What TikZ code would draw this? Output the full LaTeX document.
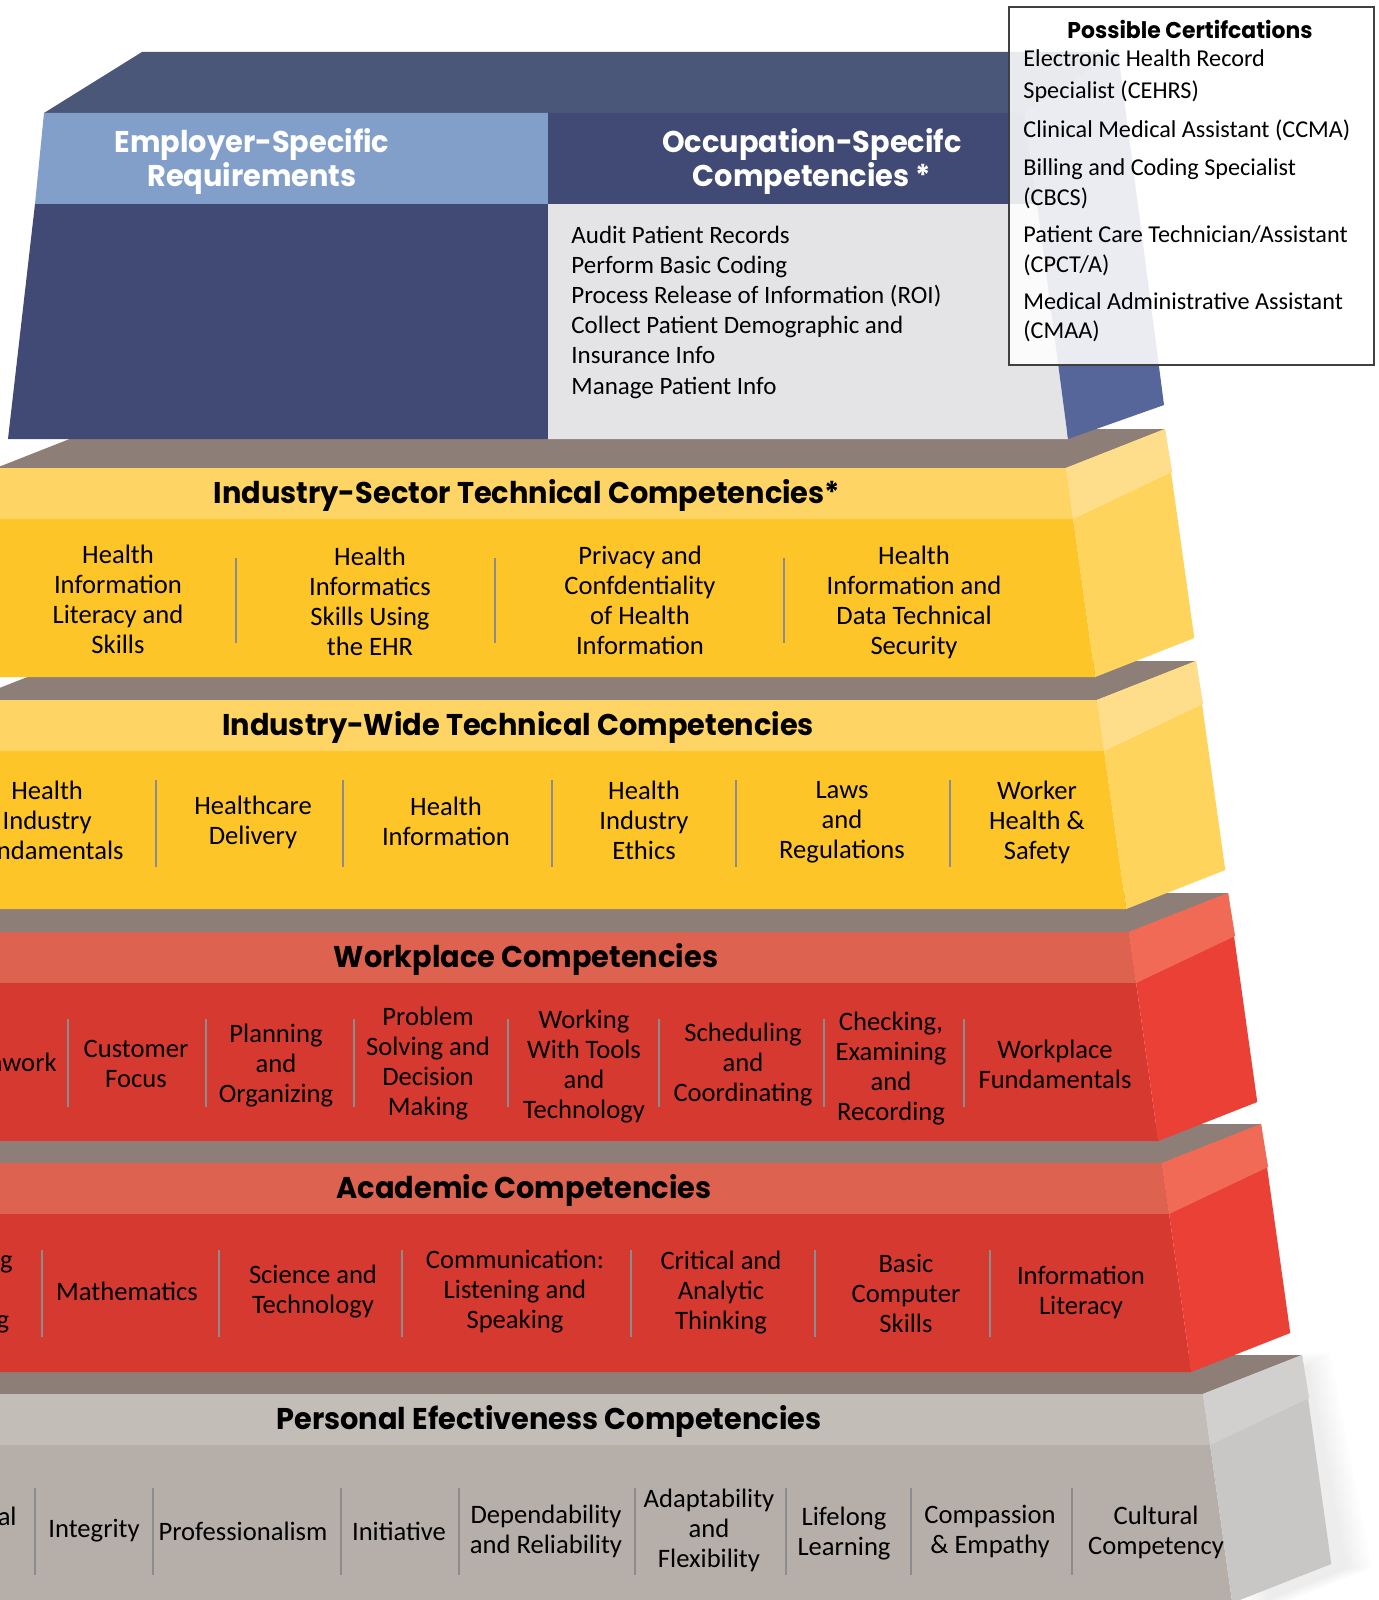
\documentclass[tikz,border=0pt]{standalone}
\usepackage{fontspec}
\setmainfont{Carlito}
\newfontfamily\headfont{Poppins}[FakeStretch=0.96]
\usetikzlibrary{positioning}

\definecolor{topgrey}{HTML}{8D7F78}
\definecolor{yelhead}{HTML}{FED565}
\definecolor{yelbody}{HTML}{FDC527}
\definecolor{yelband}{HTML}{FEDD8B}
\definecolor{yelside}{HTML}{FED45D}
\definecolor{redhead}{HTML}{DD6350}
\definecolor{redbody}{HTML}{D63930}
\definecolor{redband}{HTML}{F06A55}
\definecolor{redside}{HTML}{EA4035}
\definecolor{perhead}{HTML}{C2BDB7}
\definecolor{perbody}{HTML}{B6AEA8}
\definecolor{perband}{HTML}{D1D0CE}
\definecolor{perside}{HTML}{C9C7C5}
\definecolor{navytop}{HTML}{4A5779}
\definecolor{navy}{HTML}{404A74}
\definecolor{empblue}{HTML}{819FC9}
\definecolor{occgrey}{HTML}{E4E4E7}
\definecolor{navyside}{HTML}{56669A}

% one step of the pyramid: #1 top, #2 right x, #3 left x, #4 header, #5 body, #6 band, #7 side
\newcommand{\pyrlayer}[7]{%
  \pgfmathsetmacro\lyrh{#2+0.14*51}%
  \pgfmathsetmacro\lyrb{#2+0.14*209}%
  \pgfmathsetmacro\lylh{#3-0.14*51}%
  \pgfmathsetmacro\lylb{#3-0.14*209}%
  \fill[topgrey] (#3,#1) -- (#2,#1) -- ++(99,-39) -- ++({#3-#2},0) -- cycle;
  \fill[#4] (#3,#1) -- (#2,#1) -- (\lyrh,#1+51) -- (\lylh,#1+51) -- cycle;
  \fill[#5] (\lylh,#1+51) -- (\lyrh,#1+51) -- (\lyrb,#1+209) -- (\lylb,#1+209) -- cycle;
  \fill[#7] (#2,#1) -- ++(99,-39) -- (\lyrb+99,#1+170) -- (\lyrb,#1+209) -- cycle;
  \fill[#6] (#2,#1) -- ++(99,-39) -- (\lyrh+99,#1+4) -- (\lyrh,#1+51) -- cycle;
}

\begin{document}
\begin{tikzpicture}[x=0.5pt, y=-0.5pt,
    head/.style={font=\headfont\bfseries\fontsize{15}{16}\selectfont, inner sep=0pt, align=center},
    cell/.style={font=\fontsize{13.3}{15}\selectfont, inner sep=0pt, align=center},
    occitem/.style={font=\fontsize{12.5}{15}\selectfont, inner sep=0pt, anchor=base west},
    certitem/.style={occitem, font=\fontsize{12.1}{15}\selectfont},
    certhead/.style={font=\headfont\bfseries\fontsize{11.4}{12}\selectfont, inner sep=0pt},
    certframe/.style={draw=black!75, line width=1.2pt, fill=white, fill opacity=0.88,
      anchor=north west, minimum width=182.5pt, minimum height=179pt, inner sep=0pt},
    divider/.style={draw=black!45, line width=0.6pt}
  ]
  \useasboundingbox (0,0) rectangle (1379,1600);
  \clip (0,0) rectangle (1379,1600);

  % soft shadow
  \foreach \s in {3,6,...,27}
    \fill[black, opacity=0.008] (1230+\s,1394) -- (1303+\s,1352) -- (1345+\s,1568) -- (1240+\s,1610) -- cycle;

  % steps, bottom up
  \pyrlayer{1394}{1203}{-112}{perhead}{perbody}{perband}{perside}
  \pyrlayer{1163}{1162}{-85}{redhead}{redbody}{redband}{redside}
  \pyrlayer{932}{1129}{-58}{redhead}{redbody}{redband}{redside}
  \pyrlayer{700}{1097}{-31}{yelhead}{yelbody}{yelband}{yelside}
  \pyrlayer{468}{1066}{-4}{yelhead}{yelbody}{yelband}{yelside}

  % top block
  \fill[navytop] (44,113) -- (142,52) -- (1118,52) -- (1025,113) -- cycle;
  \fill[empblue] (44,113) -- (548,113) -- (548,204) -- (35,204) -- cycle;
  \fill[navy] (548,113) -- (1025,113) -- (1037,204) -- (548,204) -- cycle;
  \fill[navy] (35,204) -- (548,204) -- (548,439) -- (8,439) -- cycle;
  \fill[occgrey] (548,204) -- (1037,204) -- (1068,439) -- (548,439) -- cycle;
  \fill[navyside] (1025,113) -- (1118,52) -- (1164,405) -- (1068,439) -- cycle;

  \node[head, text=white] (emp) at (252,161) {Employer-Specific\\Requirements};
  \node[head, text=white] (occ) at (812,161) {Occupation-Specifc\\Competencies *};
  \foreach \txt [count=\i] in {Audit Patient Records, Perform Basic Coding,
      Process Release of Information (ROI), Collect Patient Demographic and,
      Insurance Info, Manage Patient Info}
    \node[occitem] (occ\i) at (571,{212.8+30.2*\i}) {\txt};

  % certifications box
  \node[certframe] (certbox) at (1008,6) {};
  \node[certhead] (certtitle) at (1190,29) {Possible Certifcations};
  \node[certitem] (cert1) at (1023,67) {Electronic Health Record};
  \node[certitem] (cert2) at (1023,98) {Specialist (CEHRS)};
  \node[certitem] (cert3) at (1023,137) {Clinical Medical Assistant (CCMA)};
  \node[certitem] (cert4) at (1023,175) {Billing and Coding Specialist};
  \node[certitem] (cert5) at (1023,205) {(CBCS)};
  \node[certitem] (cert6) at (1023,242) {Patient Care Technician/Assistant};
  \node[certitem] (cert7) at (1023,272) {(CPCT/A)};
  \node[certitem] (cert8) at (1023,309) {Medical Administrative Assistant};
  \node[certitem] (cert9) at (1023,338) {(CMAA)};

  % industry-sector
  \node[head] (sector) at (527,495) {Industry-Sector Technical Competencies*};
  \foreach \x in {236,495,784} \draw[divider] (\x,558) -- (\x,643);
  \node[cell] (sec1) at (118,599) {Health\\Information\\Literacy and\\Skills};
  \node[cell] (sec2) at (370,601) {Health\\Informatics\\Skills Using\\the EHR};
  \node[cell] (sec3) at (640,600) {Privacy and\\Confdentiality\\of Health\\Information};
  \node[cell] (sec4) at (914,602) {Health\\Information and\\Data Technical\\Security};

  % industry-wide
  \node[head] (wide) at (518,727) {Industry-Wide Technical Competencies};
  \foreach \x in {156,343,552,736,950} \draw[divider] (\x,780) -- (\x,867);
  \node[cell, anchor=east] (wide1) at (124,820) {Health\\Industry\\Fundamentals};
  \node[cell] (wide2) at (253,822) {Healthcare\\Delivery};
  \node[cell] (wide3) at (446,821) {Health\\Information};
  \node[cell] (wide4) at (644,820) {Health\\Industry\\Ethics};
  \node[cell] (wide5) at (842,822) {Laws\\and\\Regulations};
  \node[cell] (wide6) at (1037,822) {Worker\\Health \&\\Safety};

  % workplace
  \node[head] (work) at (526,959) {Workplace Competencies};
  \foreach \x in {68,206,354,508,659,824,964} \draw[divider] (\x,1019) -- (\x,1107);
  \node[cell, anchor=east] (work1) at (57,1062) {Teamwork};
  \node[cell] (work2) at (136,1064) {Customer\\Focus};
  \node[cell] (work3) at (276,1066) {Planning\\and\\Organizing};
  \node[cell] (work4) at (428,1064) {Problem\\Solving and\\Decision\\Making};
  \node[cell] (work5) at (584,1067) {Working\\With Tools\\and\\Technology};
  \node[cell] (work6) at (743,1065) {Scheduling\\and\\Coordinating};
  \node[cell] (work7) at (891,1069) {Checking,\\Examining\\and\\Recording};
  \node[cell] (work8) at (1055,1064) {Workplace\\Fundamentals};

  % academic
  \node[head] (acad) at (524,1190) {Academic Competencies};
  \foreach \x in {42,219,402,631,815,990} \draw[divider] (\x,1250) -- (\x,1337);
  \node[cell, anchor=east] (acad1) at (13,1292) {Reading\\and\\Writing};
  \node[cell] (acad2) at (127,1291) {Mathematics};
  \node[cell] (acad3) at (313,1292) {Science and\\Technology};
  \node[cell] (acad4) at (515,1292) {Communication:\\Listening and\\Speaking};
  \node[cell] (acad5) at (721,1293) {Critical and\\Analytic\\Thinking};
  \node[cell] (acad6) at (906,1293) {Basic\\Computer\\Skills};
  \node[cell] (acad7) at (1081,1292) {Information\\Literacy};

  % personal effectiveness
  \node[head] (pers) at (549,1421) {Personal Efectiveness Competencies};
  \foreach \x in {35,153,341,459,635,786,911,1072} \draw[divider] (\x,1488) -- (\x,1575);
  \node[cell, anchor=east] (pers1) at (17,1531) {Interpersonal\\Skills};
  \node[cell] (pers2) at (94,1531) {Integrity};
  \node[cell] (pers3) at (243,1531) {Professionalism};
  \node[cell] (pers4) at (399,1531) {Initiative};
  \node[cell] (pers5) at (546,1531) {Dependability\\and Reliability};
  \node[cell] (pers6) at (709,1530) {Adaptability\\and\\Flexibility};
  \node[cell] (pers7) at (844,1534) {Lifelong\\Learning};
  \node[cell] (pers8) at (990,1531) {Compassion\\\& Empathy};
  \node[cell] (pers9) at (1156,1532) {Cultural\\Competency};
\end{tikzpicture}
\end{document}
